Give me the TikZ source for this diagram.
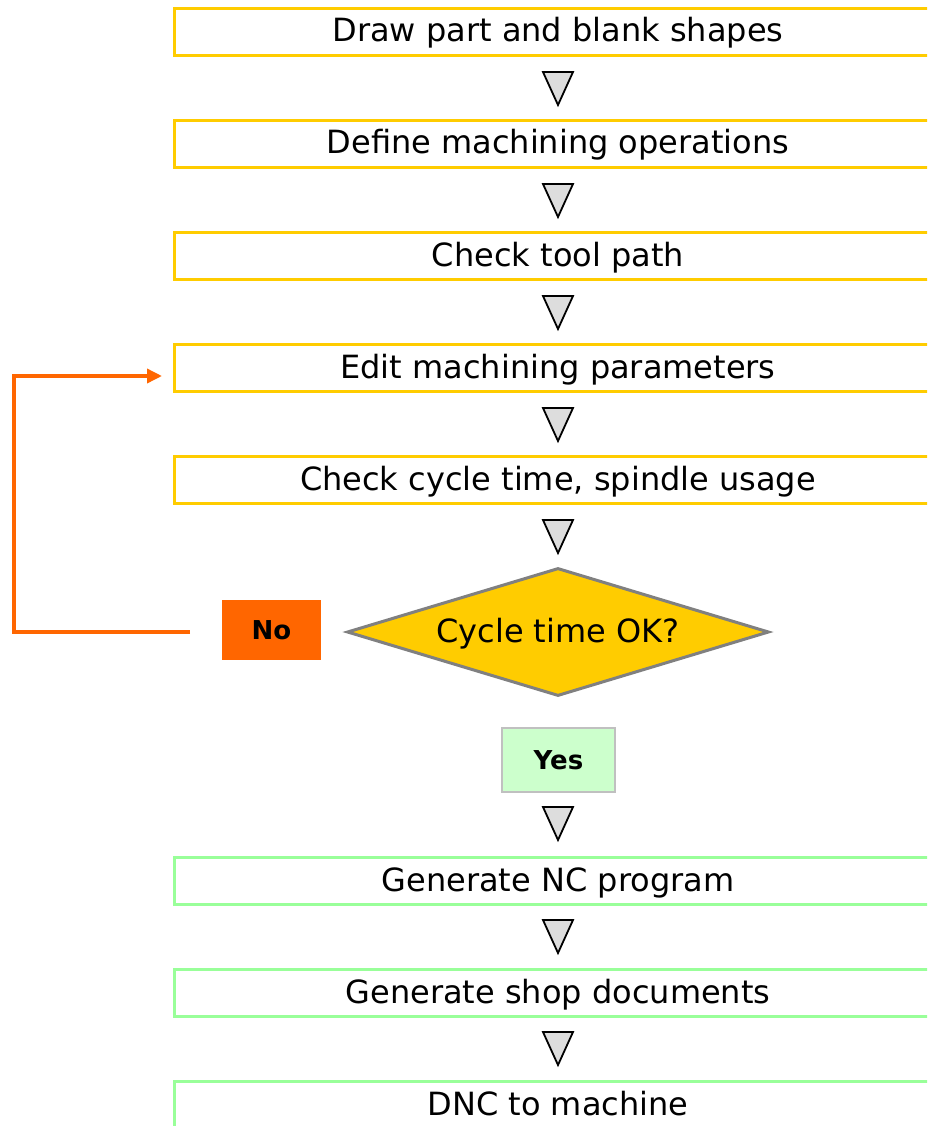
\documentclass[tikz,border=0pt]{standalone}
\usepackage{fontspec}
\setmainfont{DejaVu Sans}
\usetikzlibrary{shapes.geometric,arrows.meta}
\definecolor{boxyellow}{HTML}{FFCC00}
\definecolor{boxgreen}{HTML}{99FF99}
\definecolor{noorange}{HTML}{FF6600}
\definecolor{yesgreen}{HTML}{CCFFCC}
\definecolor{yesborder}{HTML}{C0C0C0}
\definecolor{diaborder}{HTML}{808080}
\definecolor{trifill}{HTML}{DDDDDD}
\begin{document}
\begin{tikzpicture}[x=1pt,y=-1pt,
  stepbox/.style={draw, line width=3pt, minimum width=768pt, minimum height=47pt,
    inner sep=0pt, text height=25pt, text depth=5pt, font=\fontsize{32}{38}\selectfont},
  yellowbox/.style={stepbox, draw=boxyellow},
  greenbox/.style={stepbox, draw=boxgreen},
  decision/.style={diamond, aspect=3.3, draw=diaborder, fill=boxyellow, line width=3pt,
    minimum width=422pt, minimum height=128pt, inner sep=0pt, text height=25pt, text depth=5pt,
    font=\fontsize{32}{38}\selectfont},
  nobox/.style={fill=noorange, minimum width=99pt, minimum height=60pt, inner sep=0pt,
    font=\bfseries\fontsize{26}{30}\selectfont},
  yesbox/.style={fill=yesgreen, draw=yesborder, line width=2pt, minimum width=113pt,
    minimum height=64pt, inner sep=0pt, font=\bfseries\fontsize{26}{30}\selectfont},
  loopline/.style={draw=noorange, line width=3.5pt, -{Triangle[length=15pt,width=14pt]}},
  downtri/.pic={\draw[line width=1.8pt, fill=trifill, line join=miter]
    (-15,0) -- (15,0) -- (0,33) -- cycle;}
]
\useasboundingbox (0,0) rectangle (927,1126);
\clip (0,0) rectangle (927,1126);

\node[yellowbox] (b1) at (558,32) {Draw part and blank shapes};
\node[yellowbox] (b2) at (558,144) {Define machining operations};
\node[yellowbox] (b3) at (558,256) {Check tool path};
\node[yellowbox] (b4) at (558,368) {Edit machining parameters};
\node[yellowbox] (b5) at (558,480) {Check cycle time, spindle usage};
\node[decision] (d) at (558,632) {Cycle time OK?};
\node[nobox] (no) at (271.5,630) {No};
\node[yesbox] (yes) at (558.5,760) {Yes};
\node[greenbox] (g1) at (558,881) {Generate NC program};
\node[greenbox] (g2) at (558,993) {Generate shop documents};
\node[greenbox] (g3) at (558,1105) {DNC to machine};

\pic (t1) at (558,72) {downtri};
\pic (t2) at (558,184) {downtri};
\pic (t3) at (558,296) {downtri};
\pic (t4) at (558,408) {downtri};
\pic (t5) at (558,520) {downtri};
\pic (t6) at (558,807) {downtri};
\pic (t7) at (558,920) {downtri};
\pic (t8) at (558,1032) {downtri};

\coordinate (nofrom) at (190,632);
\coordinate (loopto) at (162,376);
\draw[loopline] (nofrom) -- (14,632) |- (loopto);
\end{tikzpicture}
\end{document}
